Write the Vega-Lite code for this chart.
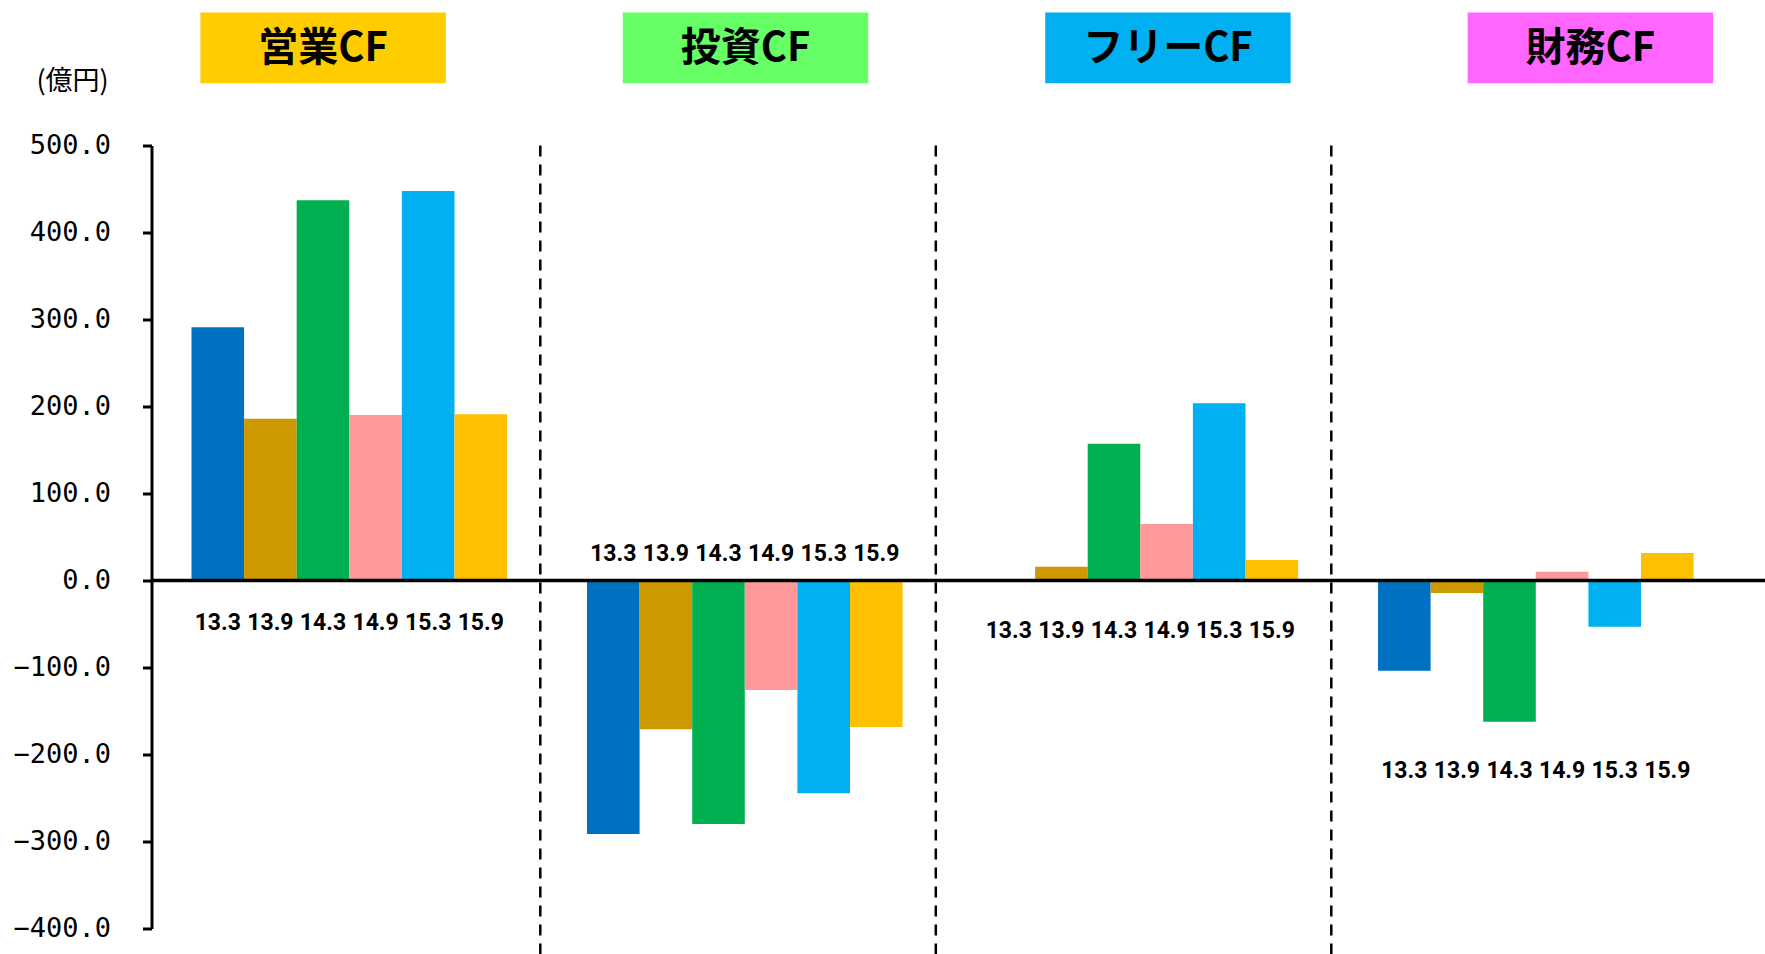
{
  "$schema": "https://vega.github.io/schema/vega-lite/v6.json",
  "width": 1613.5,
  "height": 783,
  "autosize": {"type": "none"},
  "padding": {"left": 151.5, "top": 145.5, "right": 0, "bottom": 25.5},
  "background": "white",
  "config": {"view": {"stroke": null}},
  "datasets": {
    "bars": [
      {"panel": "営業CF", "period": "13.3", "value": 291.0},
      {"panel": "営業CF", "period": "13.9", "value": 186.0},
      {"panel": "営業CF", "period": "14.3", "value": 437.0},
      {"panel": "営業CF", "period": "14.9", "value": 190.2},
      {"panel": "営業CF", "period": "15.3", "value": 447.7},
      {"panel": "営業CF", "period": "15.9", "value": 191.0},
      {"panel": "投資CF", "period": "13.3", "value": -291.5},
      {"panel": "投資CF", "period": "13.9", "value": -171.0},
      {"panel": "投資CF", "period": "14.3", "value": -280.0},
      {"panel": "投資CF", "period": "14.9", "value": -126.0},
      {"panel": "投資CF", "period": "15.3", "value": -244.6},
      {"panel": "投資CF", "period": "15.9", "value": -168.4},
      {"panel": "フリーCF", "period": "13.3", "value": -0.5},
      {"panel": "フリーCF", "period": "13.9", "value": 15.9},
      {"panel": "フリーCF", "period": "14.3", "value": 157.2},
      {"panel": "フリーCF", "period": "14.9", "value": 65.0},
      {"panel": "フリーCF", "period": "15.3", "value": 203.7},
      {"panel": "フリーCF", "period": "15.9", "value": 23.6},
      {"panel": "財務CF", "period": "13.3", "value": -103.7},
      {"panel": "財務CF", "period": "13.9", "value": -14.4},
      {"panel": "財務CF", "period": "14.3", "value": -162.3},
      {"panel": "財務CF", "period": "14.9", "value": 10.1},
      {"panel": "財務CF", "period": "15.3", "value": -53.1},
      {"panel": "財務CF", "period": "15.9", "value": 31.6}
    ],
    "panels": [
      {"panel": "営業CF"},
      {"panel": "投資CF"},
      {"panel": "フリーCF"},
      {"panel": "財務CF"}
    ],
    "seps": [
      {"panel": "営業CF"},
      {"panel": "投資CF"},
      {"panel": "フリーCF"}
    ]
  },
  "layer": [
    {
      "layer": [
        {
          "data": {"name": "bars"},
          "mark": {"type": "bar"},
          "encoding": {
            "x": {"field": "panel", "type": "nominal", "sort": ["営業CF", "投資CF", "フリーCF", "財務CF"],
                  "scale": {"domain": ["営業CF", "投資CF", "フリーCF", "財務CF"], "paddingInner": 0.202, "paddingOuter": 0.1408, "align": 0.359, "round": false},
                  "axis": null},
            "xOffset": {"field": "period", "type": "nominal", "sort": ["13.3", "13.9", "14.3", "14.9", "15.3", "15.9"],
                        "scale": {"paddingInner": 0, "paddingOuter": 0}},
            "y": {"field": "value", "type": "quantitative", "stack": null,
                  "scale": {"domain": [-400, 500], "nice": false, "zero": false},
                  "axis": {
                    "title": "(億円)", "titleAngle": 0, "titleX": -79.5, "titleY": -64.5,
                    "titleAlign": "center", "titleBaseline": "middle",
                    "titleFont": "Noto Sans CJK JP", "titleFontSize": 27, "titleFontWeight": "normal", "titleColor": "black",
                    "values": [-400, -300, -200, -100, 0, 100, 200, 300, 400, 500],
                    "format": ".1f", "grid": false,
                    "domainColor": "black", "domainWidth": 3,
                    "tickColor": "black", "tickWidth": 3, "tickSize": 9,
                    "labelFont": "DejaVu Sans Mono", "labelFontSize": 27, "labelColor": "black", "labelPadding": 32
                  }},
            "color": {"field": "period", "type": "nominal",
                      "scale": {"domain": ["13.3", "13.9", "14.3", "14.9", "15.3", "15.9"],
                                "range": ["#0070C0", "#CC9900", "#00B050", "#FF9999", "#00B0F0", "#FFC000"]},
                      "legend": null}
          }
        },
        {
          "data": {"name": "bars"},
          "transform": [{"filter": "datum.panel === '営業CF'"}],
          "mark": {"type": "text", "font": "Roboto", "fontSize": 23, "fontWeight": "bold", "color": "black", "baseline": "middle"},
          "encoding": {
            "x": {"field": "panel", "type": "nominal", "axis": null},
            "xOffset": {"field": "period", "type": "nominal"},
            "y": {"datum": -48.3},
            "text": {"field": "period"}
          }
        },
        {
          "data": {"name": "bars"},
          "transform": [{"filter": "datum.panel === '投資CF'"}],
          "mark": {"type": "text", "font": "Roboto", "fontSize": 23, "fontWeight": "bold", "color": "black", "baseline": "middle"},
          "encoding": {
            "x": {"field": "panel", "type": "nominal", "axis": null},
            "xOffset": {"field": "period", "type": "nominal"},
            "y": {"datum": 31},
            "text": {"field": "period"}
          }
        },
        {
          "data": {"name": "bars"},
          "transform": [{"filter": "datum.panel === 'フリーCF'"}],
          "mark": {"type": "text", "font": "Roboto", "fontSize": 23, "fontWeight": "bold", "color": "black", "baseline": "middle"},
          "encoding": {
            "x": {"field": "panel", "type": "nominal", "axis": null},
            "xOffset": {"field": "period", "type": "nominal"},
            "y": {"datum": -58},
            "text": {"field": "period"}
          }
        },
        {
          "data": {"name": "bars"},
          "transform": [{"filter": "datum.panel === '財務CF'"}],
          "mark": {"type": "text", "font": "Roboto", "fontSize": 23, "fontWeight": "bold", "color": "black", "baseline": "middle"},
          "encoding": {
            "x": {"field": "panel", "type": "nominal", "axis": null},
            "xOffset": {"field": "period", "type": "nominal"},
            "y": {"datum": -218.4},
            "text": {"field": "period"}
          }
        },
        {
          "data": {"name": "seps"},
          "mark": {"type": "rule", "color": "black", "strokeWidth": 2.5, "strokeDash": [11, 8], "xOffset": 33.2},
          "encoding": {
            "x": {"field": "panel", "type": "nominal", "bandPosition": 1, "axis": null},
            "y": {"datum": 500},
            "y2": {"datum": -430}
          }
        },
        {
          "data": {"values": [{}]},
          "mark": {"type": "rule", "color": "black", "strokeWidth": 3.3},
          "encoding": {"y": {"datum": 0}}
        }
      ]
    },
    {
      "layer": [
        {
          "data": {"name": "panels"},
          "mark": {"type": "bar"},
          "encoding": {
            "x": {"field": "panel", "type": "nominal", "sort": ["営業CF", "投資CF", "フリーCF", "財務CF"],
                  "scale": {"domain": ["営業CF", "投資CF", "フリーCF", "財務CF"], "paddingInner": 0.419, "paddingOuter": 0.1194, "align": 0.485, "round": false},
                  "axis": null},
            "y": {"datum": 653},
            "y2": {"datum": 571.5},
            "color": {"field": "panel", "type": "nominal",
                      "scale": {"domain": ["営業CF", "投資CF", "フリーCF", "財務CF"], "range": ["#FFCC00", "#66FF66", "#00B0F0", "#FF66FF"]},
                      "legend": null}
          }
        },
        {
          "data": {"name": "panels"},
          "mark": {"type": "text", "font": "Noto Sans CJK JP", "fontSize": 40, "fontWeight": "bold", "color": "black", "baseline": "middle"},
          "encoding": {
            "x": {"field": "panel", "type": "nominal", "axis": null},
            "y": {"datum": 611},
            "text": {"field": "panel"}
          }
        }
      ]
    }
  ],
  "resolve": {"scale": {"x": "independent", "color": "independent"}}
}
